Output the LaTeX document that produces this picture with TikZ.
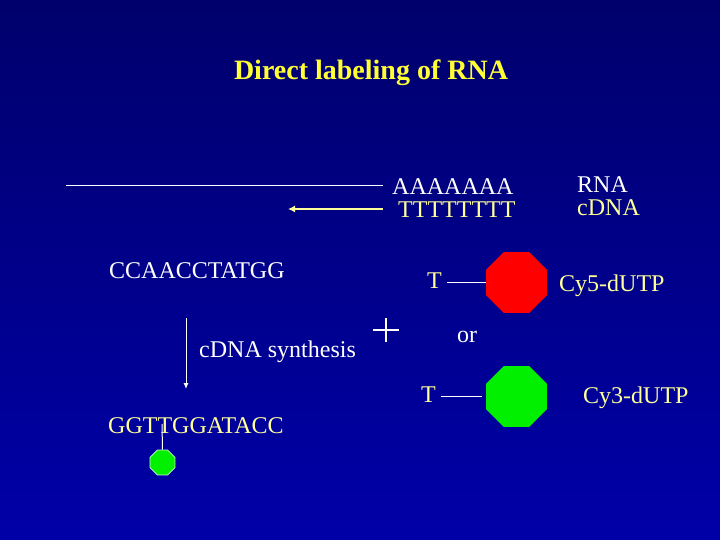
\documentclass[tikz,border=0pt]{standalone}
\usepackage{fontspec}
\setmainfont{Liberation Serif}
\usetikzlibrary{shapes.geometric,arrows.meta}
\definecolor{bgtop}{HTML}{00006C}
\definecolor{bgbot}{HTML}{0000A8}
\definecolor{pyel}{HTML}{FFFF99}
\definecolor{tyel}{HTML}{FFFF33}
\definecolor{oct red}{HTML}{FF0000}
\definecolor{oct green}{HTML}{00F000}
\tikzset{
  txt/.style={anchor=base west, inner sep=2pt, font=\fontsize{24}{28}\selectfont, text=white},
  ytxt/.style={txt, text=pyel},
  octa/.style={regular polygon, regular polygon sides=8, inner sep=0pt, minimum size=#1},
  wline/.style={draw=white, line width=1pt},
}
\begin{document}
\begin{tikzpicture}[x=1pt,y=-1pt]
\shade[top color=bgtop, bottom color=bgbot] (0,0) rectangle (720,540);
\useasboundingbox (0,0) rectangle (720,540);
% title
\node[anchor=base, font=\fontsize{28}{32}\selectfont\bfseries, text=tyel] (title) at (371,80) {Direct labeling of RNA};
% RNA / cDNA
\node[txt] (polyA) at (390,195) {AAAAAAA};
\node[ytxt] (polyT) at (396,218) {TTTTTTTT};
\node[txt] (rnalab) at (575,193) {RNA};
\node[ytxt] (cdnalab) at (575,215) {cDNA};
\coordinate (rnaL) at (66,186);
\coordinate (arrL) at (288,209);
\draw[wline, shorten >=7pt] (rnaL) -- (rnaL -| polyA.west);
\draw[draw=pyel, line width=2pt, shorten <=13pt, -{Latex[length=7pt,width=7pt]}] (arrL -| polyT.west) -- (arrL);
% template and product
\node[txt] (templ) at (107,278) {CCAACCTATGG};
\node[txt] (synth) at (197,357) {cDNA synthesis};
\coordinate (synTop) at (186,318);
\coordinate (synBot) at (186,389);
\draw[wline, -{Latex[length=6pt,width=5pt]}] (synTop) -- (synBot);
\node[ytxt] (prod) at (106,433) {GGTTGGATACC};
\node[octa=27pt, fill=oct green, draw=white!80!oct green, line width=0.8pt] (smallg) at (162.5,462.5) {};
\coordinate (stem) at (162,424);
\draw[wline] (stem) -- (smallg.north);
% plus
\draw[draw=white, line width=1.2pt] (373,330) -- (399,330) (386,318) -- (386,342);
% dyes
\node[octa=66pt, fill=oct red] (red) at (516.5,282.5) {};
\node[octa=66pt, fill=oct green] (green) at (516.5,396.5) {};
\node[ytxt] (tred) at (425,288) {T};
\node[ytxt] (tgreen) at (419,402) {T};
\draw[wline, shorten <=3pt] (red.west -| tred.east) -- (red.west);
\draw[wline, shorten <=3pt, shorten >=4pt] (green.west -| tgreen.east) -- (green.west);
\node[ytxt] (cy5) at (557,291) {Cy5-dUTP};
\node[ytxt] (cy3) at (581,403) {Cy3-dUTP};
\node[txt] (or) at (455,342) {or};
\end{tikzpicture}
\end{document}
